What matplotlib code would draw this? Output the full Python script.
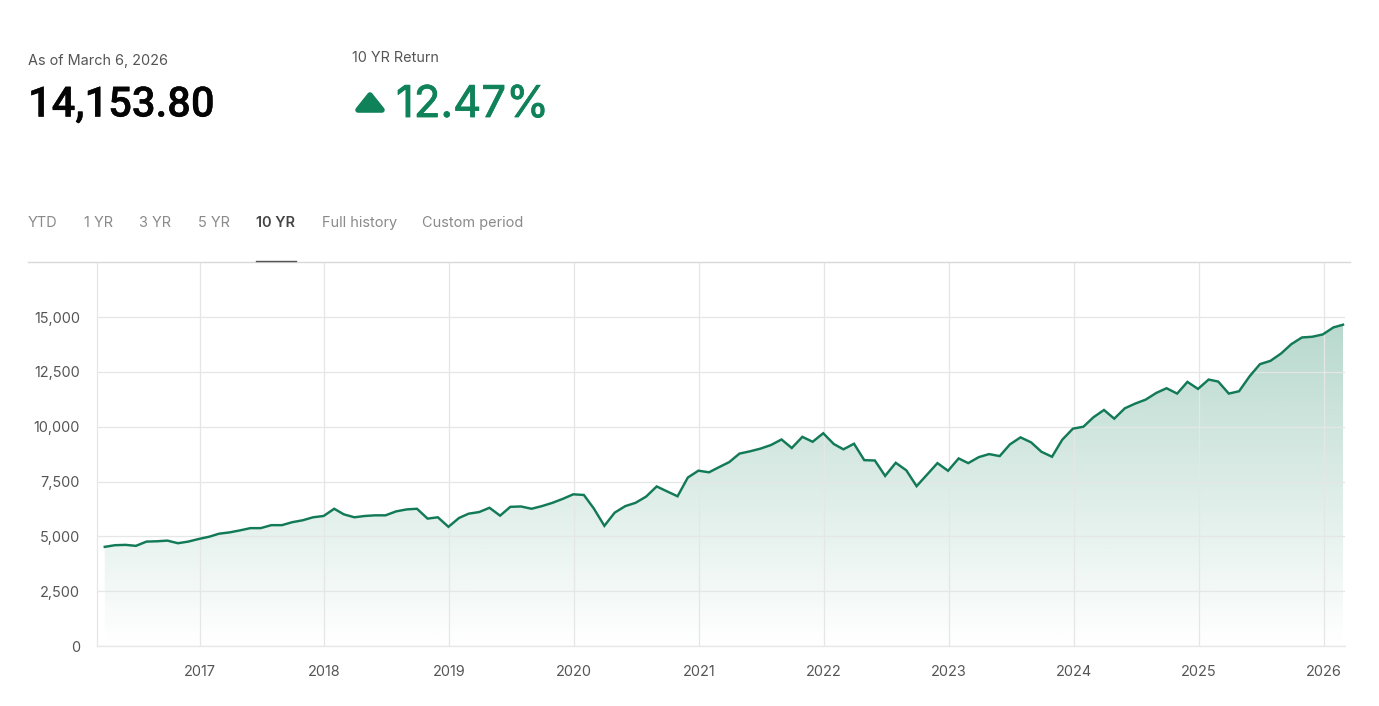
import matplotlib
matplotlib.use('Agg')
import matplotlib.pyplot as plt
import matplotlib.dates as mdates
import matplotlib.patheffects as pe
import numpy as np
import pandas as pd
from matplotlib.patches import Polygon

plt.rcParams['font.family'] = ['Inter', 'DejaVu Sans']

# month end closes
dates = pd.date_range('2016-03-31', periods=120, freq='ME') - pd.Timedelta(days=1)
values = [
    4520, 4596, 4611, 4566, 4760, 4775, 4805, 4686, 4760, 4880,
    4985, 5120, 5180, 5270, 5374, 5374, 5510, 5510, 5644, 5733,
    5868, 5928, 6257, 6003, 5868, 5928, 5958, 5958, 6138, 6228,
    6257, 5808, 5868, 5434, 5838, 6033, 6108, 6302, 5943, 6345,
    6362, 6257, 6377, 6527, 6706, 6916, 6886, 6272, 5479, 6078,
    6377, 6527, 6811, 7275, 7051, 6826, 7680, 7994, 7919, 8144,
    8383, 8772, 8877, 8997, 9162, 9416, 9027, 9536, 9311, 9700,
    9207, 8967, 9222, 8473, 8458, 7754, 8353, 8009, 7287, 7820,
    8338, 7988, 8552, 8338, 8612, 8750, 8658, 9192, 9512, 9283,
    8856, 8628, 9405, 9908, 9999, 10426, 10761, 10365, 10838, 11050,
    11234, 11539, 11752, 11508, 12042, 11721, 12148, 12057, 11508, 11615,
    12300, 12849, 13002, 13337, 13764, 14068, 14099, 14206, 14526, 14648,
]
y_ticks = [0, 2500, 5000, 7500, 10000, 12500, 15000]
years = [2017, 2018, 2019, 2020, 2021, 2022, 2023, 2024, 2025, 2026]
tabs = ['YTD', '1 YR', '3 YR', '5 YR', '10 YR', 'Full history', 'Custom period']
tab_x = [28, 84, 139, 198, 256, 322, 422]

GREEN = '#137a56'
TEXT_GREEN = '#0f8259'
GRID = '#e5e7e7'
W, H = 1379, 706

fig = plt.figure(figsize=(W / 100, H / 100), dpi=100)
ax = fig.add_axes([96.5 / W, 1 - 646 / H, (1345 - 96.5) / W, (646 - 263) / H])

# pixels per day from the year ticks, 124.9px per year
x0 = mdates.date2num(pd.Timestamp('2017-01-01'))
per_day = 124.9 / 365.25
xlim = (x0 - 103 / per_day, x0 + 1145.5 / per_day)
ylim = (0, 383 * 15000 / 329)

# gradient under the line
poly = ax.fill_between(dates, values, 0, color='none')
grad = np.zeros((256, 2, 4))
grad[:, :, 0] = 0x13 / 255
grad[:, :, 1] = 0x80 / 255
grad[:, :, 2] = 0x5a / 255
grad[:, :, 3] = np.linspace(0.30, 0.0, 256)[:, None]
im = ax.imshow(grad, aspect='auto', origin='upper', zorder=1,
               extent=[*xlim, 0, max(values)])
ax.set_xlim(*xlim)
ax.set_ylim(*ylim)
im.set_clip_path(poly.get_paths()[0], transform=ax.transData)

ax.plot(dates, values, color=GREEN, lw=1.75, zorder=3, solid_joinstyle='miter')

ax.set_yticks(y_ticks)
ax.set_yticklabels(['{:,}'.format(v) for v in y_ticks])
ax.set_xticks([mdates.date2num(pd.Timestamp(year=y, month=1, day=1)) for y in years])
ax.set_xticklabels([str(y) for y in years])
ax.grid(True, color=GRID, lw=0.9, zorder=2)
ax.set_axisbelow(False)
for ln in ax.get_xgridlines() + ax.get_ygridlines():
    ln.set_zorder(2)
ax.tick_params(axis='both', length=0, labelsize=10.4, labelcolor='#555555')
ax.tick_params(axis='y', pad=12)
ax.tick_params(axis='x', pad=14)
for s in ['top', 'right']:
    ax.spines[s].set_visible(False)
for s in ['left', 'bottom']:
    ax.spines[s].set_color(GRID)
    ax.spines[s].set_linewidth(0.9)

# header drawn in pixel coordinates
top = fig.add_axes([0, 0, 1, 1], facecolor='none')
top.set_xlim(0, W)
top.set_ylim(H, 0)
top.axis('off')

top.text(28, 60.5, 'As of March 6, 2026', fontsize=10.4, color='#555555', va='center')
top.text(352, 57.5, '10 YR Return', fontsize=10.4, color='#555555', va='center')
top.text(28, 116.5, '14,153.80', fontsize=30, color='#050505', va='baseline', family='Roboto',
         fontweight='medium', path_effects=[pe.withStroke(linewidth=0.3, foreground='#050505')])
top.text(396, 117, '12.47%', fontsize=31.5, color=TEXT_GREEN, va='baseline',
         path_effects=[pe.withStroke(linewidth=0.6, foreground=TEXT_GREEN)])
top.add_patch(Polygon([[358, 110], [382, 110], [370, 95]], closed=True, facecolor=TEXT_GREEN,
                      edgecolor=TEXT_GREEN, lw=4, joinstyle='round'))

for label, x in zip(tabs, tab_x):
    active = label == '10 YR'
    top.text(x, 223, label, fontsize=10.45, va='center',
             color='#444444' if active else '#8a8a8a',
             fontweight='semibold' if active else 'normal')
top.plot([28, 1350], [262, 262], color='#d8d8d8', lw=1)
top.plot([256, 296], [261, 261], color='#555555', lw=1)

fig.savefig('out.png', dpi=100)
